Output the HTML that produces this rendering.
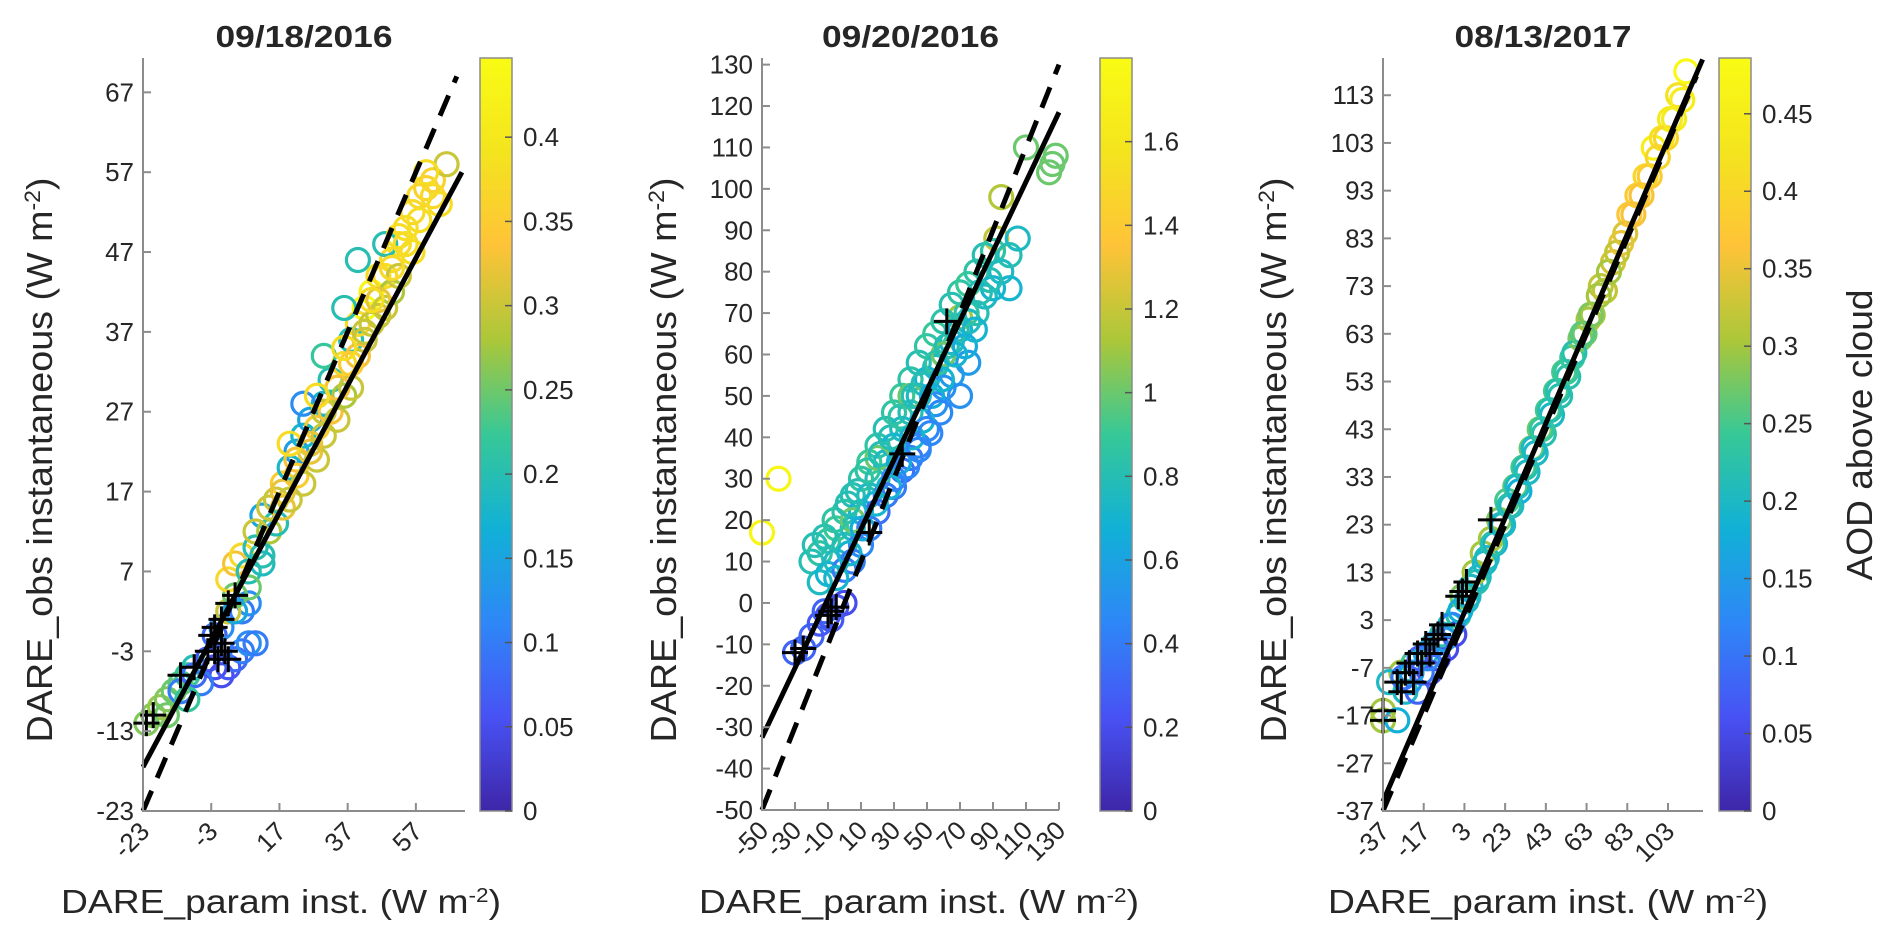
<!DOCTYPE html>
<html><head><meta charset="utf-8"><style>
html,body{margin:0;padding:0;background:#fff;}
svg{display:block;}
text{font-family:"Liberation Sans",sans-serif;fill:#262626;}
</style></head><body>
<svg id="chart" width="1892" height="948" viewBox="0 0 1892 948" xmlns="http://www.w3.org/2000/svg">
<defs>
<linearGradient id="parula" x1="0" y1="1" x2="0" y2="0">
<stop offset="0" stop-color="#3e26a8"/><stop offset="0.125" stop-color="#4852f4"/><stop offset="0.25" stop-color="#2e87f7"/>
<stop offset="0.375" stop-color="#11b1d6"/><stop offset="0.5" stop-color="#37c897"/><stop offset="0.625" stop-color="#abc739"/>
<stop offset="0.75" stop-color="#fec338"/><stop offset="0.875" stop-color="#f4e41e"/><stop offset="1" stop-color="#f9fb14"/>
</linearGradient>
</defs>
<g id="root"></g>
</svg>
<script>
// ---------- Panel 1 data ----------
const p1X=[-22,-20,-18,-16,-14,-12,-10,-8,-12,-8,-4,-2,0,2,4,6,8,10,6,8,-2,0,2,4,2,4,6,8,10,12,12,14,16,16,18,18,20,20,22,22,24,24,26,26,28,28,30,30,32,32,34,34,36,36,38,38,40,40,42,42,44,44,46,46,48,48,50,50,52,52,54,56,58,56,60,62,64,66,36,30,40,24,48,
10,14,18,22,26,30,34,38,42,46,50,54,58,62,20,28,36,44,52,60,4,8,12,-6,-10,-16];
const p1Y=[-12,-11,-10,-9,-8,-7,-6,-5,-8,-6,-4,-5,-6,-5,-4,-3,-2,-2,2,3,-1,0,2,4,6,8,9,7,10,8,14,12,16,13,18,15,20,16,22,19,18,24,22,26,25,21,28,24,27,31,30,26,33,29,36,30,34,38,40,36,42,38,44,39,44,40,46,42,48,44,50,52,54,47,55,56,53,58,40,34,46,28,48,
12,15,17,21,23,27,30,33,37,41,45,48,51,54,23,29,35,41,49,57,2,5,9,-7,-9,-11];
const p1C=[0.26,0.26,0.27,0.26,0.25,0.24,0.22,0.2,0.1,0.08,0.06,0.05,0.05,0.06,0.08,0.1,0.12,0.1,0.1,0.12,0.08,0.12,0.3,0.25,0.37,0.33,0.37,0.2,0.2,0.19,0.15,0.28,0.3,0.2,0.35,0.32,0.18,0.3,0.14,0.35,0.3,0.18,0.32,0.15,0.35,0.3,0.18,0.3,0.33,0.2,0.37,0.3,0.37,0.28,0.2,0.3,0.33,0.37,0.44,0.3,0.43,0.3,0.38,0.3,0.38,0.3,0.37,0.28,0.38,0.3,0.38,0.37,0.37,0.38,0.36,0.36,0.38,0.3,0.2,0.22,0.2,0.12,0.2,
0.3,0.3,0.32,0.33,0.32,0.3,0.33,0.35,0.3,0.32,0.37,0.38,0.38,0.37,0.38,0.38,0.38,0.38,0.38,0.38,0.15,0.25,0.2,0.1,0.22,0.25];
const p1PlusX=[-22,-20,-12,-8,-4,-3,-2,-1,0,1,2,-2,0,2,4];
const p1PlusY=[-12,-11,-6,-5,-3,-1,-3,-4,-2,-3,-4,0,1,3,4];
const p1FitX=[-23,70.5], p1FitY=[-17.5,57];
const p1RefX=[-23,69], p1RefY=[-23,69];
const p1XTicks=[-23,-3,17,37,57];
const p1YTicks=[-23,-13,-3,7,17,27,37,47,57,67];
const p1CTicks=[0,0.05,0.1,0.15,0.2,0.25,0.3,0.35,0.4];
const p1CLabels=["0","0.05","0.1","0.15","0.2","0.25","0.3","0.35","0.4"];

// ---------- Panel 2 data ----------
const p2X=[-50,-40,70,95,92,110,126,128,124,-30,-25,-20,-15,-10,-5,0,-12,-8,
-20,-15,-10,-5,0,5,10,15,20,25,30,35,40,45,50,55,60,65,70,75,80,85,90,
-15,-10,-5,0,5,10,15,20,25,30,35,40,45,50,55,60,65,70,75,80,85,90,95,100,105,100,
0,5,10,15,20,25,30,35,40,45,50,55,60,65,70,75,20,40,60,5,
-18,-12,-6,2,8,14,22,28,34,42,48,56,62,68,74,82,88,
-5,3,11,19,27,33,41,47,53,59,67,73,79,
30,38,45,52,58];
const p2Y=[17,30,69,98,88,110,106,108,104,-12,-11,-8,-5,-3,-1,0,-2,-4,
10,12,15,18,22,26,30,34,38,42,46,50,54,58,62,65,68,72,75,77,80,84,85,
5,7,10,14,18,22,26,30,34,38,42,46,50,54,57,60,63,66,68,70,74,76,80,84,88,76,
8,10,14,18,22,26,28,32,35,38,42,48,52,55,50,58,35,50,60,20,
14,16,20,24,27,32,36,40,45,50,53,58,62,66,70,75,78,
6,12,18,24,28,34,40,44,50,54,60,62,66,
30,33,37,41,46];
const p2C=[1.75,1.75,1.1,1.15,1.2,1.0,1.0,1.0,1.0,0.3,0.3,0.3,0.25,0.25,0.25,0.2,0.3,0.25,
0.8,0.85,0.85,0.9,0.85,0.8,0.85,0.9,0.85,0.8,0.85,0.9,0.85,0.8,0.85,0.9,0.85,0.8,0.85,0.9,0.85,0.8,0.85,
0.75,0.7,0.75,0.8,0.75,0.7,0.75,0.8,0.75,0.7,0.75,0.8,0.75,0.7,0.75,0.8,0.75,0.7,0.75,0.8,0.75,0.7,0.75,0.8,0.75,0.7,
0.4,0.4,0.45,0.4,0.35,0.4,0.4,0.35,0.4,0.45,0.45,0.5,0.5,0.55,0.5,0.55,1.0,1.0,1.0,1.0,
0.8,0.8,0.85,0.8,0.8,0.85,0.8,0.8,0.85,0.8,0.8,0.85,0.8,0.8,0.85,0.8,0.8,
0.7,0.7,0.65,0.7,0.7,0.65,0.7,0.7,0.65,0.7,0.7,0.65,0.7,
0.45,0.45,0.45,0.45,0.45];
const p2PlusX=[-30,-25,-10,-5,-8,15,35,62];
const p2PlusY=[-12,-11,-3,-1,-2,17,36,68];
const p2FitX=[-50,130], p2FitY=[-32.5,118.5];
const p2RefX=[-50,130], p2RefY=[-50,130];
const p2XTicks=[-50,-30,-10,10,30,50,70,90,110,130];
const p2YTicks=[-50,-40,-30,-20,-10,0,10,20,30,40,50,60,70,80,90,100,110,120,130];
const p2CTicks=[0,0.2,0.4,0.6,0.8,1,1.2,1.4,1.6];
const p2CLabels=["0","0.2","0.4","0.6","0.8","1","1.2","1.4","1.6"];

// ---------- Panel 3 data ----------
const p3X=[-37,-37,-30,-28,-26,-24,-22,-20,-18,-16,-14,-12,-10,-8,-6,-4,-2,0,2,4,6,8,10,12,14,16,18,20,22,24,26,28,30,32,34,36,38,40,42,44,46,48,50,52,54,56,60,62,64,66,70,72,76,80,84,88,92,96,100,104,108,112,
-34,-27,-23,-19,-15,-11,-7,-3,1,5,9,13,17,21,25,29,33,37,41,45,49,53,57,61,65,69,74,78,82,86,90,94,98,102,106,110];
const p3Y=[-18,-16,-18,-8,-12,-10,-6,-12,-8,-4,-8,-2,-5,0,-3,2,0,4,8,7,10,13,12,17,16,20,19,24,23,28,27,31,30,35,34,39,38,43,42,47,46,51,50,55,54,58,62,63,66,67,73,72,78,82,88,92,96,102,104,108,113,118,
-10,-9,-8,-5,-5,-2,-1,2,5,8,11,15,19,23,27,31,35,39,43,47,51,55,59,63,67,71,76,80,84,88,92,96,100,104,108,112];
const p3C=[0.3,0.3,0.18,0.3,0.2,0.15,0.25,0.08,0.1,0.2,0.05,0.2,0.06,0.22,0.05,0.2,0.05,0.22,0.28,0.2,0.2,0.3,0.2,0.3,0.2,0.3,0.18,0.28,0.2,0.25,0.2,0.26,0.18,0.25,0.2,0.27,0.2,0.27,0.22,0.25,0.2,0.25,0.22,0.25,0.22,0.24,0.28,0.27,0.3,0.3,0.32,0.32,0.33,0.35,0.37,0.38,0.4,0.45,0.42,0.44,0.42,0.48,
0.2,0.1,0.15,0.08,0.12,0.1,0.15,0.12,0.18,0.2,0.22,0.2,0.22,0.2,0.22,0.2,0.22,0.2,0.24,0.22,0.22,0.24,0.22,0.26,0.28,0.3,0.3,0.32,0.34,0.36,0.36,0.38,0.4,0.4,0.44,0.45];
const p3PlusX=[-37,-37,-30,-28,-26,-24,-22,-20,-18,-16,-14,-12,-10,-8,0,2,4,16];
const p3PlusY=[-18,-16,-10,-12,-8,-6,-10,-4,-6,-2,-4,-1,0,2,8,9,11,24];
const p3FitX=[-37,120], p3FitY=[-35,120.5];
const p3RefX=[-37,117], p3RefY=[-37,117];
const p3XTicks=[-37,-17,3,23,43,63,83,103];
const p3YTicks=[-37,-27,-17,-7,3,13,23,33,43,53,63,73,83,93,103,113];
const p3CTicks=[0,0.05,0.1,0.15,0.2,0.25,0.3,0.35,0.4,0.45];
const p3CLabels=["0","0.05","0.1","0.15","0.2","0.25","0.3","0.35","0.4","0.45"];

const NS="http://www.w3.org/2000/svg";
const root=document.getElementById('root');
function mk(tag,attrs,parent){const e=document.createElementNS(NS,tag);for(const k in attrs)e.setAttribute(k,attrs[k]);(parent||root).appendChild(e);return e;}
const stops=[[0,[62,38,168]],[0.125,[72,82,244]],[0.25,[46,135,247]],[0.375,[17,177,214]],[0.5,[55,200,151]],[0.625,[171,199,57]],[0.75,[254,195,56]],[0.875,[244,228,30]],[1,[249,251,20]]];
function parula(t){t=Math.max(0,Math.min(1,t));for(let i=1;i<stops.length;i++){if(t<=stops[i][0]){const a=stops[i-1],b=stops[i];const f=(t-a[0])/(b[0]-a[0]);const c=a[1].map((v,j)=>Math.round(v+(b[1][j]-v)*f));return `rgb(${c[0]},${c[1]},${c[2]})`;}}return 'rgb(249,251,20)';}

function panel(cfg){
  const g=mk('g',{});
  
  
  const sx=v=>cfg.px0+(v-cfg.xd0)/(cfg.xd1-cfg.xd0)*(cfg.px1-cfg.px0);
  const sy=v=>cfg.py0-(v-cfg.yd0)/(cfg.yd1-cfg.yd0)*(cfg.py0-cfg.py1);
  const pg=mk('g',{},g);
  
  
  for(let i=0;i<cfg.X.length;i++){
    const c=mk('circle',{cx:sx(cfg.X[i]),cy:sy(cfg.Y[i]),r:11.5,fill:'none',stroke:parula(cfg.C[i]/cfg.cmax),'stroke-width':3.2},pg);
    
    
  }
  const ref=mk('line',{x1:sx(cfg.RX[0]),y1:sy(cfg.RY[0]),x2:sx(cfg.RX[1]),y2:sy(cfg.RY[1]),stroke:'#000','stroke-width':5,'stroke-dasharray':'22,14'},g);
  
  
  const fit=mk('line',{x1:sx(cfg.FX[0]),y1:sy(cfg.FY[0]),x2:sx(cfg.FX[1]),y2:sy(cfg.FY[1]),stroke:'#000','stroke-width':5},g);
  
  
  for(let i=0;i<cfg.PX.length;i++){
    const x=sx(cfg.PX[i]),y=sy(cfg.PY[i]);
    const p=mk('path',{d:`M${x-13},${y}H${x+13}M${x},${y-13}V${y+13}`,stroke:'#000','stroke-width':3,fill:'none'},g);
    
    
  }
  const ax=mk('path',{d:`M${cfg.px0},${cfg.py1}V${cfg.py0}H${cfg.px1}`,stroke:'#8c8c8c','stroke-width':2,fill:'none'},g);
  
  
  cfg.YT.forEach(v=>{
    const y=sy(v);
    mk('line',{x1:cfg.px0,y1:y,x2:cfg.px0+8,y2:y,stroke:'#8c8c8c','stroke-width':2},g);
    const t=mk('text',{x:cfg.px0-9,y:y+9,'text-anchor':'end','font-size':26},g);
    t.textContent=String(v);
    
    
  });
  cfg.XT.forEach(v=>{
    const x=sx(v);
    mk('line',{x1:x,y1:cfg.py0,x2:x,y2:cfg.py0-8,stroke:'#8c8c8c','stroke-width':2},g);
    const t=mk('text',{x:x+8,y:cfg.py0+22,'text-anchor':'end','font-size':26,transform:`rotate(-45 ${x+8} ${cfg.py0+22})`},g);
    t.textContent=String(v);
    
    
  });
  const ti=mk('text',{x:(cfg.px0+cfg.px1)/2,y:47,'text-anchor':'middle','font-size':31,'font-weight':'bold',textLength:177,lengthAdjust:'spacingAndGlyphs'},g);
  ti.textContent=cfg.title;
  
  
  const yl=mk('text',{x:0,y:0,'text-anchor':'middle','font-size':36,textLength:565,lengthAdjust:'spacingAndGlyphs',transform:`translate(${cfg.ylx+13},460) rotate(-90)`},g);
  yl.innerHTML='DARE_obs instantaneous (W m<tspan baseline-shift="super" font-size="22">-2</tspan>)';
  
  
  const xl=mk('text',{x:cfg.xlx,y:913,'text-anchor':'middle','font-size':33,textLength:440,lengthAdjust:'spacingAndGlyphs'},g);
  xl.innerHTML='DARE_param inst. (W m<tspan baseline-shift="super" font-size="20">-2</tspan>)';
  
  
  const cb=mk('rect',{x:cfg.cbx,y:58,width:32,height:753,fill:'url(#parula)',stroke:'#8c8c8c','stroke-width':1.5},g);
  
  
  const cy=v=>811-v/cfg.cmax*753;
  cfg.CT.forEach((v,i)=>{
    const y=cy(v);
    mk('line',{x1:cfg.cbx+32,y1:y,x2:cfg.cbx+25,y2:y,stroke:'#555','stroke-width':1.5},g);
    const t=mk('text',{x:cfg.cbx+43,y:y+9,'font-size':26},g);
    t.textContent=cfg.CL[i];
    
    
  });
}

panel({name:'panel-09-18-2016',title:'09/18/2016',px0:143,px1:465,xd0:-23,xd1:71.4,py0:811,py1:58,yd0:-23,yd1:71.3,
  X:p1X,Y:p1Y,C:p1C,PX:p1PlusX,PY:p1PlusY,FX:p1FitX,FY:p1FitY,RX:p1RefX,RY:p1RefY,XT:p1XTicks,YT:p1YTicks,
  cbx:480,cmax:0.447,CT:p1CTicks,CL:p1CLabels,ylx:39,xlx:281});
panel({name:'panel-09-20-2016',title:'09/20/2016',px0:762,px1:1059,xd0:-50,xd1:130,py0:810,py1:58,yd0:-50,yd1:131.6,
  X:p2X,Y:p2Y,C:p2C,PX:p2PlusX,PY:p2PlusY,FX:p2FitX,FY:p2FitY,RX:p2RefX,RY:p2RefY,XT:p2XTicks,YT:p2YTicks,
  cbx:1100,cmax:1.8,CT:p2CTicks,CL:p2CLabels,ylx:663,xlx:919});
panel({name:'panel-08-13-2017',title:'08/13/2017',px0:1383,px1:1703,xd0:-37,xd1:120.2,py0:811,py1:58,yd0:-37,yd1:120.8,
  X:p3X,Y:p3Y,C:p3C,PX:p3PlusX,PY:p3PlusY,FX:p3FitX,FY:p3FitY,RX:p3RefX,RY:p3RefY,XT:p3XTicks,YT:p3YTicks,
  cbx:1719,cmax:0.486,CT:p3CTicks,CL:p3CLabels,ylx:1273,xlx:1548});

const aod=mk('text',{x:0,y:0,'text-anchor':'middle','font-size':36,textLength:291,lengthAdjust:'spacingAndGlyphs',transform:'translate(1872,435) rotate(-90)'});
aod.textContent='AOD above cloud';


</script>
</body></html>
